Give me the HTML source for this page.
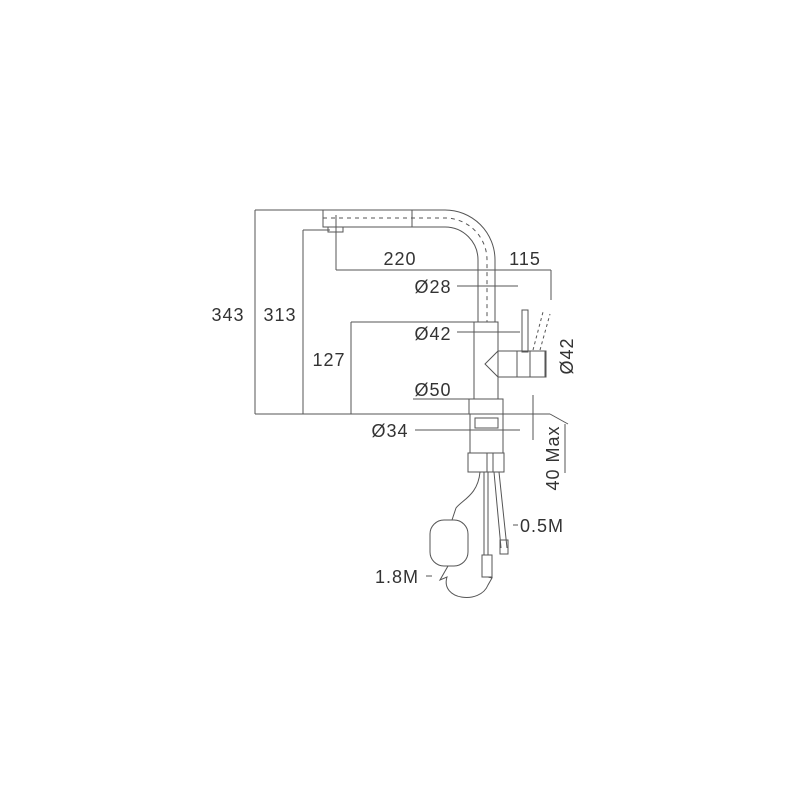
<!DOCTYPE html>
<html><head><meta charset="utf-8"><style>
html,body{margin:0;padding:0;background:#fff;width:800px;height:800px;overflow:hidden}
svg{display:block}
text{font-family:"Liberation Sans",sans-serif;fill:#333;font-size:18px;letter-spacing:1px}
</style></head><body>
<svg width="800" height="800" viewBox="0 0 800 800" xmlns="http://www.w3.org/2000/svg">
<g fill="none" stroke="#555" stroke-width="1">
<path d="M323 210 L445 210 A50 50 0 0 1 495 260 L495 322"/>
<path d="M323 210 L323 227 L445 227 A33 33 0 0 1 478 260 L478 322"/>
<line x1="412" y1="210" x2="412" y2="227"/>
<path d="M323 218 L445 218 A42 42 0 0 1 487 260 L487 322" stroke-dasharray="4 4"/>
<rect x="328" y="227" width="15" height="5"/>
<rect x="474" y="322" width="24" height="77"/>
<rect x="522" y="310" width="6" height="42"/>
<rect x="498" y="351" width="48" height="26"/>
<line x1="517" y1="351" x2="517" y2="377"/>
<line x1="530" y1="351" x2="530" y2="377"/>
<path d="M498 351 L485 364 L498 377"/>
<path d="M533 350 L543 312 M540 350 L550 314" stroke-dasharray="3 3"/>
<rect x="469" y="399" width="34" height="15"/>
<rect x="470" y="414" width="33" height="39"/>
<rect x="475" y="418" width="23" height="10"/>
<rect x="468" y="453" width="36" height="19"/>
<line x1="487" y1="453" x2="487" y2="472"/>
<line x1="493" y1="453" x2="493" y2="472"/>
<path d="M484 472 L484 555 M488 472 L488 555"/>
<path d="M494 472 L501 548 M499 472 L507 548"/>
<rect x="500" y="540" width="8" height="14"/>
<rect x="482" y="555" width="10" height="22"/>
<path d="M480 472 C478 495 462 500 456 508 L452 520"/>
<rect x="430" y="520" width="38" height="46" rx="14"/>
<path d="M448 566 L440 580 L447 577 C440 600 480 605 488 585 L492 578 L488 577"/>
<line x1="255" y1="210" x2="255" y2="414"/>
<line x1="255" y1="210" x2="323" y2="210"/>
<line x1="303" y1="230" x2="303" y2="414"/>
<line x1="303" y1="230" x2="330" y2="230"/>
<line x1="351" y1="322" x2="351" y2="414"/>
<line x1="351" y1="322" x2="474" y2="322"/>
<line x1="336" y1="215" x2="336" y2="270"/>
<line x1="336" y1="270" x2="551" y2="270"/>
<line x1="551" y1="270" x2="551" y2="300"/>
<line x1="457" y1="286" x2="518" y2="286"/>
<line x1="457" y1="332" x2="520" y2="332"/>
<line x1="545" y1="351" x2="545" y2="377"/>
<line x1="413" y1="399" x2="469" y2="399"/>
<line x1="255" y1="414" x2="550" y2="414"/>
<line x1="550" y1="414" x2="568" y2="424"/>
<line x1="415" y1="430" x2="520" y2="430"/>
<line x1="533" y1="395" x2="533" y2="440"/>
<line x1="565" y1="424" x2="565" y2="473"/>
<line x1="513" y1="525" x2="518" y2="525"/>
<line x1="426" y1="576" x2="432" y2="576"/>
</g>
<text x="400" y="265" text-anchor="middle">220</text>
<text x="525" y="265" text-anchor="middle">115</text>
<text x="433" y="293" text-anchor="middle">Ø28</text>
<text x="433" y="340" text-anchor="middle">Ø42</text>
<text x="433" y="396" text-anchor="middle">Ø50</text>
<text x="390" y="437" text-anchor="middle">Ø34</text>
<text x="228" y="321" text-anchor="middle">343</text>
<text x="280" y="321" text-anchor="middle">313</text>
<text x="329" y="366" text-anchor="middle">127</text>
<text x="542" y="532" text-anchor="middle">0.5M</text>
<text x="397" y="583" text-anchor="middle">1.8M</text>
<text transform="translate(573,356) rotate(-90)" text-anchor="middle">Ø42</text>
<text transform="translate(559,458) rotate(-90)" text-anchor="middle">40 Max</text>
</svg>
</body></html>
